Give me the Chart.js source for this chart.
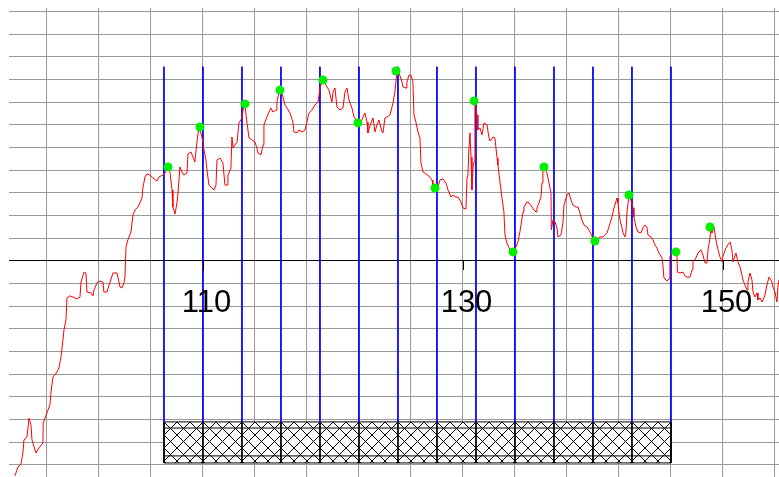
<!DOCTYPE html>
<html>
<head>
<meta charset="utf-8">
<script src="https://cdn.jsdelivr.net/npm/chart.js@4.4.1/dist/chart.umd.min.js"></script>
<style>
  html, body { margin: 0; padding: 0; background: #fff; }
</style>
</head>
<body>
<canvas id="chart" width="779" height="477"></canvas>
<script>
// ---- red trace ----
const traceX = [
  95.54, 95.69, 95.77, 96.00, 96.15, 96.23, 96.46, 96.62, 96.77, 96.85,
  97.15, 97.38, 97.69, 97.71, 98.00, 98.23, 98.31, 98.46, 98.77, 98.92,
  99.08, 99.23, 99.31, 99.46, 99.54, 99.77, 100.00, 100.31, 100.54, 100.62,
  100.85, 101.00, 101.08, 101.38, 101.54, 101.62, 101.85, 102.08, 102.31, 102.38,
  102.62, 102.85, 103.08, 103.38, 103.46, 103.62, 103.77, 103.92, 104.00, 104.08,
  104.23, 104.46, 104.62, 104.77, 105.00, 105.31, 105.38, 105.54, 105.69, 105.92,
  106.15, 106.46, 106.62, 106.92, 107.08, 107.31, 107.46, 107.62, 107.69, 107.85,
  108.00, 108.08, 108.23, 108.38, 108.54, 108.77, 108.85, 109.08, 109.23, 109.38,
  109.54, 109.69, 109.92, 110.08, 110.23, 110.31, 110.46, 110.69, 110.85, 111.00,
  111.08, 111.31, 111.54, 111.69, 111.85, 111.92, 112.15, 112.23, 112.31, 112.46,
  112.62, 112.77, 113.00, 113.08, 113.23, 113.38, 113.54, 113.77, 114.00, 114.15,
  114.23, 114.46, 114.62, 114.69, 114.92, 115.08, 115.23, 115.38, 115.62, 115.69,
  115.85, 115.92, 116.08, 116.31, 116.46, 116.69, 116.92, 117.00, 117.23, 117.38,
  117.62, 117.85, 118.00, 118.15, 118.38, 118.62, 118.85, 119.00, 119.15, 119.23,
  119.54, 119.69, 119.92, 120.00, 120.15, 120.31, 120.54, 120.77, 120.92, 121.08,
  121.23, 121.46, 121.62, 121.77, 121.85, 122.08, 122.31, 122.46, 122.62, 122.69,
  122.92, 123.08, 123.23, 123.38, 123.54, 123.77, 123.85, 124.00, 124.15, 124.38,
  124.62, 124.77, 124.92, 125.08, 125.31, 125.38, 125.62, 125.69, 125.85, 126.00,
  126.15, 126.23, 126.38, 126.54, 126.69, 126.77, 126.92, 127.15, 127.38, 127.62,
  127.69, 127.85, 128.08, 128.23, 128.46, 128.69, 128.85, 129.08, 129.23, 129.46,
  129.62, 129.85, 130.00, 130.23, 130.31, 130.38, 130.46, 130.54, 130.62, 130.69,
  130.77, 130.85, 130.92, 131.08, 131.15, 131.31, 131.46, 131.62, 131.85, 132.00,
  132.08, 132.31, 132.46, 132.62, 132.69, 132.85, 133.00, 133.15, 133.23, 133.38,
  133.62, 133.77, 133.85, 134.08, 134.23, 134.38, 134.62, 134.69, 134.92, 135.08,
  135.31, 135.46, 135.62, 135.69, 135.85, 136.00, 136.08, 136.15, 136.23, 136.46,
  136.62, 136.77, 136.80, 136.92, 137.08, 137.23, 137.31, 137.54, 137.69, 137.77,
  138.00, 138.15, 138.31, 138.46, 138.69, 138.85, 139.00, 139.15, 139.31, 139.54,
  139.69, 139.85, 140.08, 140.31, 140.54, 140.77, 141.08, 141.23, 141.46, 141.62,
  141.85, 141.92, 142.08, 142.23, 142.31, 142.46, 142.54, 142.62, 142.77, 142.92,
  143.08, 143.15, 143.31, 143.46, 143.69, 143.85, 144.00, 144.15, 144.23, 144.46,
  144.62, 144.77, 144.92, 145.08, 145.31, 145.38, 145.46, 145.69, 145.85, 145.92,
  146.08, 146.38, 146.46, 146.50, 146.69, 146.92, 147.08, 147.23, 147.46, 147.62,
  147.69, 147.92, 148.08, 148.31, 148.46, 148.62, 148.77, 148.85, 149.00, 149.08,
  149.15, 149.31, 149.46, 149.62, 149.77, 149.92, 150.00, 150.23, 150.38, 150.54,
  150.69, 150.77, 151.00, 151.15, 151.31, 151.46, 151.54, 151.69, 151.85, 151.92,
  152.08, 152.23, 152.31, 152.46, 152.62, 152.69, 152.85, 153.00, 153.08, 153.23,
  153.38, 153.54, 153.77, 153.85, 154.00, 154.15, 154.23, 154.31
];
const traceY = [
  -9.48, -9.22, -9.09, -8.95, -8.47, -7.90, -7.76, -6.93, -7.23, -7.90,
  -8.47, -8.25, -8.03, -7.15, -6.70, -6.35, -5.78, -5.12, -4.90, -4.72,
  -4.23, -3.48, -3.04, -2.60, -1.63, -1.54, -1.59, -1.68, -1.59, -0.93,
  -0.49, -0.53, -1.37, -1.41, -1.54, -1.28, -0.97, -0.88, -0.93, -1.37,
  -1.37, -0.93, -0.53, -0.53, -0.71, -1.15, -1.19, -0.97, -0.71, 0.62,
  0.93, 1.28, 2.03, 2.25, 2.38, 2.78, 3.22, 3.71, 3.84, 3.79,
  3.66, 3.53, 3.71, 3.79, 3.88, 4.15, 3.93, 3.13, 2.38, 2.07,
  2.56, 3.00, 4.15, 3.93, 3.79, 3.88, 4.72, 4.81, 4.59, 4.37,
  5.25, 5.91, 5.47, 4.90, 4.46, 4.01, 3.35, 3.22, 3.13, 3.35,
  4.46, 4.54, 4.32, 3.35, 3.35, 3.79, 4.10, 5.47, 4.98, 5.12,
  5.25, 6.09, 6.31, 6.66, 6.88, 6.13, 5.43, 5.34, 5.25, 4.98,
  4.76, 4.68, 5.12, 6.00, 6.35, 6.57, 6.75, 6.57, 6.66, 7.01,
  7.45, 7.59, 7.41, 6.88, 6.75, 6.53, 6.13, 5.69, 5.65, 5.78,
  5.69, 5.78, 6.13, 6.53, 6.66, 6.88, 7.01, 7.63, 7.90, 7.98,
  7.68, 7.54, 7.01, 7.45, 7.63, 6.79, 6.66, 6.75, 7.45, 7.63,
  7.10, 6.75, 6.35, 6.22, 6.09, 6.00, 6.35, 6.53, 6.13, 5.65,
  6.09, 6.31, 5.69, 6.00, 6.22, 5.69, 5.65, 6.31, 6.35, 6.44,
  6.97, 7.50, 8.34, 8.29, 7.90, 7.68, 7.63, 7.90, 8.20, 8.20,
  7.90, 6.44, 6.13, 5.69, 5.43, 4.32, 3.93, 3.84, 3.75, 3.57,
  3.35, 3.18, 3.26, 3.57, 3.62, 3.44, 3.13, 2.82, 2.91, 2.82,
  2.82, 2.60, 2.34, 2.29, 3.66, 3.79, 4.98, 5.65, 4.59, 3.13,
  4.10, 4.37, 7.01, 6.44, 5.78, 5.87, 5.56, 6.09, 6.00, 5.43,
  5.29, 5.47, 5.43, 4.54, 4.23, 3.48, 2.78, 2.16, 1.15, 0.79,
  0.49, 0.35, 0.40, 0.62, 0.84, 1.28, 2.16, 2.38, 2.60, 2.56,
  2.38, 2.25, 2.16, 2.34, 2.56, 2.82, 3.44, 3.93, 4.15, 3.88,
  3.44, 3.00, 1.37, 1.81, 1.72, 1.46, 1.06, 1.15, 1.68, 2.47,
  2.91, 3.00, 2.69, 2.47, 2.38, 2.38, 2.12, 1.81, 1.59, 1.50,
  1.37, 1.19, 0.88, 0.97, 1.06, 1.06, 1.24, 1.50, 1.94, 2.34,
  2.78, 2.56, 1.81, 1.46, 1.24, 1.06, 1.28, 2.16, 2.87, 2.69,
  2.34, 1.94, 1.50, 1.28, 1.24, 1.46, 1.59, 1.50, 1.15, 1.06,
  0.93, 0.71, 0.57, 0.35, 0.13, -0.18, -0.75, -0.88, -0.79, 0.18,
  0.35, 0.40, 0.26, -0.49, -0.53, -0.49, -0.66, -0.71, -0.71, -0.40,
  -0.04, 0.13, 0.35, 0.49, 0.26, -0.09, -0.09, 0.49, 1.01, 1.46,
  1.24, 1.50, 0.93, 0.49, 0.18, -0.04, 0.22, 0.57, 0.71, 0.84,
  0.49, -0.04, 0.35, -0.04, -0.26, -0.62, -0.84, -1.06, -1.28, -0.93,
  -0.53, -0.84, -1.37, -1.59, -1.41, -1.72, -1.63, -1.81, -1.72, -1.50,
  -1.06, -0.71, -0.93, -1.15, -1.37, -1.81, -1.15, -0.84
];

// ---- green markers ----
const markX = [107.31, 109.77, 113.23, 115.92, 119.23, 121.92, 124.85, 127.85,
               130.85, 133.85, 136.23, 140.15, 142.77, 146.38, 149.00];
const markY = [4.15, 5.91, 6.93, 7.54, 7.98, 6.09, 8.38, 3.22,
               7.06, 0.40, 4.15, 0.88, 2.91, 0.40, 1.50];

// ---- blue guides + hatched band ----
const guideX = [107, 110, 113, 116, 119, 122, 125, 128, 131, 134, 137, 140, 143, 146];
const guideTop = 8.57;
const bandX = [107, 146];
const bandY = [-7.10, -8.91];
const bandInnerY = [-7.37, -8.60];

// ---- axes ----
const gridX = [98, 102, 106, 110, 114, 118, 122, 126, 130, 134, 138, 142, 146, 150, 154];
const gridY = [-9, -8, -7, -6, -5, -4, -3, -2, -1, 0, 1, 2, 3, 4, 5, 6, 7, 8, 9, 10, 11];
const labelX = [110, 130, 150];
const xRange = [95.08, 154.31];
const yRange = [-9.53, 11.16];

const canvas = document.getElementById('chart');
const ctx = canvas.getContext('2d');

// cross hatch tile for the band
function hatchPattern() {
    let tile = document.createElement('canvas');
    tile.width = 13;
    tile.height = 13;
    let g = tile.getContext('2d');
    g.fillStyle = '#fff';
    g.fillRect(0, 0, 13, 13);
    g.strokeStyle = '#000';
    g.lineWidth = 1;
    g.beginPath();
    g.moveTo(0, 0); g.lineTo(13, 13);
    g.moveTo(13, 0); g.lineTo(0, 13);
    g.stroke();
    return ctx.createPattern(tile, 'repeat');
}
const hatch = hatchPattern();

function verticals(xs, y1, y2) {
    let pts = [];
    xs.forEach(x => { pts.push({x: x, y: y1}, {x: x, y: y2}, {x: x, y: null}); });
    return pts;
}

function horizontals(ys, x1, x2) {
    let pts = [];
    ys.forEach(y => { pts.push({x: x1, y: y}, {x: x2, y: y}, {x: x2, y: null}); });
    return pts;
}

// line the hatch up with the band corner, then draw 110/130/150 under the zero line
const decorations = {
    id: 'decorations',
    beforeDatasetsDraw(chart) {
        const {x, y} = chart.scales;
        const px = x.getPixelForValue(bandX[0]);
        const py = y.getPixelForValue(bandY[0]);
        hatch.setTransform(new DOMMatrix([1, 0, 0, 1, Math.round(px), Math.round(py)]));
    },
    afterDatasetsDraw(chart) {
        const {ctx, scales: {x, y}} = chart;
        const y0 = Math.round(y.getPixelForValue(0));
        ctx.save();
        ctx.strokeStyle = '#000';
        ctx.lineWidth = 1;
        ctx.fillStyle = '#000';
        ctx.font = '31px "Liberation Sans", Arial, sans-serif';
        ctx.textAlign = 'center';
        ctx.textBaseline = 'alphabetic';
        labelX.forEach(v => {
            const px = Math.round(x.getPixelForValue(v)) + 0.5;
            ctx.beginPath();
            ctx.moveTo(px, y0);
            ctx.lineTo(px, y0 + 9);
            ctx.stroke();
            ctx.fillText(String(v), px + 3, y0 + 51);
        });
        ctx.restore();
    }
};

const lineBase = { pointRadius: 0, borderWidth: 1, tension: 0, spanGaps: false, fill: false };

new Chart(canvas, {
    type: 'line',
    data: {
        datasets: [
            {
                type: 'scatter',
                data: markX.map((x, i) => ({x: x, y: markY[i]})),
                pointRadius: 4.5,
                pointBorderWidth: 0,
                backgroundColor: '#00ee00'
            },
            Object.assign({}, lineBase, {
                data: traceX.map((x, i) => ({x: x, y: traceY[i]})),
                borderColor: '#ff0000'
            }),
            Object.assign({}, lineBase, {
                data: verticals(guideX, guideTop, bandY[0]),
                borderColor: '#0000ff'
            }),
            Object.assign({}, lineBase, {
                data: verticals(guideX, bandY[0], bandY[1]),
                borderColor: '#000'
            }),
            Object.assign({}, lineBase, {
                data: horizontals(bandInnerY, bandX[0], bandX[1]),
                borderColor: '#000'
            }),
            Object.assign({}, lineBase, {
                data: [
                    {x: bandX[0], y: bandY[1]}, {x: bandX[0], y: bandY[0]},
                    {x: bandX[1], y: bandY[0]}, {x: bandX[1], y: bandY[1]},
                    {x: bandX[0], y: bandY[1]}
                ],
                borderColor: '#000'
            }),
            Object.assign({}, lineBase, {
                data: [{x: bandX[0], y: bandY[0]}, {x: bandX[1], y: bandY[0]}],
                borderWidth: 0,
                borderColor: 'rgba(0,0,0,0)',
                backgroundColor: hatch,
                fill: {value: bandY[1]}
            })
        ]
    },
    options: {
        responsive: false,
        animation: false,
        devicePixelRatio: 1,
        layout: { autoPadding: false, padding: { left: 9, top: 8, right: 0, bottom: 0 } },
        plugins: {
            legend: { display: false },
            tooltip: { enabled: false },
            filler: { propagate: false }
        },
        scales: {
            x: {
                type: 'linear',
                min: xRange[0],
                max: xRange[1],
                afterBuildTicks: s => { s.ticks = gridX.map(v => ({value: v})); },
                ticks: { display: false },
                grid: { color: '#999', drawTicks: false },
                border: { display: false }
            },
            y: {
                type: 'linear',
                min: yRange[0],
                max: yRange[1],
                afterBuildTicks: s => { s.ticks = gridY.map(v => ({value: v})); },
                ticks: { display: false },
                grid: {
                    color: c => (c.tick && c.tick.value === 0) ? '#000' : '#999',
                    drawTicks: false
                },
                border: { display: false }
            }
        }
    },
    plugins: [decorations]
});
</script>
</body>
</html>
